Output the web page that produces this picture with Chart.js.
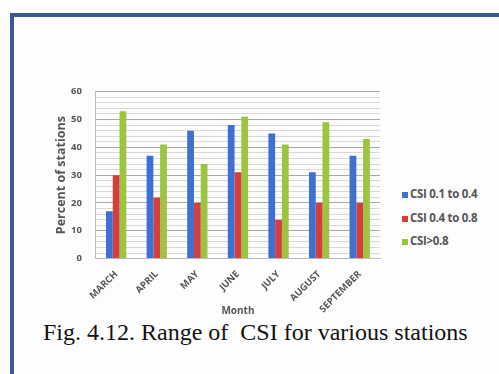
<!DOCTYPE html>
<html>
<head>
<meta charset="utf-8">
<script src="https://cdn.jsdelivr.net/npm/chart.js@4"></script>
<style>
    html, body { margin: 0; padding: 0; background: #fdfdfd; }
    #page { position: relative; width: 499px; height: 374px; overflow: hidden; }
    /* blue frame of the scanned page */
    #frameTop { position: absolute; left: 10px; top: 13px; width: 489px; height: 4px; background: #3b5a93; }
    #frameLeft { position: absolute; left: 10px; top: 13px; width: 4px; height: 361px; background: #3b5a93; }
    #chartBox { position: absolute; left: 54px; top: 72px; width: 330px; height: 245px; }
    #legend { position: absolute; left: 402px; top: 186px; font: bold 11.5px "Open Sans", sans-serif; color: #555; letter-spacing: -0.3px; }
    #legend div { height: 23.5px; white-space: nowrap; }
    #legend span { display: inline-block; width: 6px; height: 6px; margin-right: 2px; vertical-align: 0px; }
    #caption { position: absolute; left: 43px; top: 319px; font: 24px "Liberation Serif", serif; color: #111; white-space: pre; }
</style>
</head>
<body>
<div id="page">
    <div id="frameTop"></div>
    <div id="frameLeft"></div>
    <div id="chartBox"><canvas id="csiChart"></canvas></div>
    <div id="legend"></div>
    <div id="caption">Fig. 4.12. Range of  CSI for various stations</div>
</div>
<script>
// --- data ---
const months = ['MARCH', 'APRIL', 'MAY', 'JUNE', 'JULY', 'AUGUST', 'SEPTEMBER'];
const seriesNames = ['CSI 0.1 to 0.4', 'CSI 0.4 to 0.8', 'CSI>0.8'];
const csiLow = [17, 37, 46, 48, 45, 31, 37];
const csiMid = [30, 22, 20, 31, 14, 20, 20];
const csiHigh = [53, 41, 34, 51, 41, 49, 43];
const seriesColors = ['#3e6fd2', '#d33f3d', '#9cc43e'];

const axisFont = 'Open Sans';

document.addEventListener('DOMContentLoaded', function () {
    const values = [csiLow, csiMid, csiHigh];

    const datasets = seriesNames.map(function (name, i) {
        return {
            label: name,
            data: values[i],
            backgroundColor: seriesColors[i],
            borderWidth: 0,
            barPercentage: 1,
            categoryPercentage: 0.5
        };
    });

    // legend sits beside the plot like the original
    const legend = document.getElementById('legend');
    seriesNames.forEach(function (name, i) {
        const row = document.createElement('div');
        row.innerHTML = '<span style="background:' + seriesColors[i] + '"></span>' + name;
        legend.appendChild(row);
    });

    new Chart(document.getElementById('csiChart'), {
        type: 'bar',
        data: { labels: months, datasets: datasets },
        options: {
            responsive: true,
            maintainAspectRatio: false,
            animation: false,
            layout: { padding: { top: 0, right: 4, bottom: 0, left: 0 } },
            plugins: {
                legend: { display: false },
                tooltip: { enabled: false }
            },
            scales: {
                y: {
                    min: 0,
                    max: 60,
                    ticks: {
                        stepSize: 2,
                        autoSkip: false,
                        color: '#555',
                        padding: 14,
                        font: { family: axisFont, size: 9.5, weight: 'bold' },
                        callback: function (v) { return v % 10 === 0 ? v : ''; }
                    },
                    grid: {
                        color: function (ctx) {
                            return ctx.tick && ctx.tick.value % 10 === 0 ? '#a9a9a9' : '#d8d8d8';
                        },
                        drawTicks: false
                    },
                    border: { color: '#bbb' },
                    title: {
                        display: true,
                        text: 'Percent of stations',
                        color: '#555',
                        font: { family: axisFont, size: 12.5, weight: 'bold' },
                        padding: { top: 0, bottom: -12 }
                    }
                },
                x: {
                    grid: { display: false },
                    border: { color: '#bbb' },
                    ticks: {
                        maxRotation: 45,
                        minRotation: 45,
                        color: '#555',
                        padding: 2,
                        font: { family: axisFont, size: 9.5, weight: 'bold' }
                    },
                    title: {
                        display: true,
                        text: 'Month',
                        color: '#555',
                        font: { family: axisFont, size: 10, weight: 'bold' },
                        padding: { top: -12, bottom: 0 }
                    }
                }
            }
        }
    });
});
</script>
</body>
</html>
